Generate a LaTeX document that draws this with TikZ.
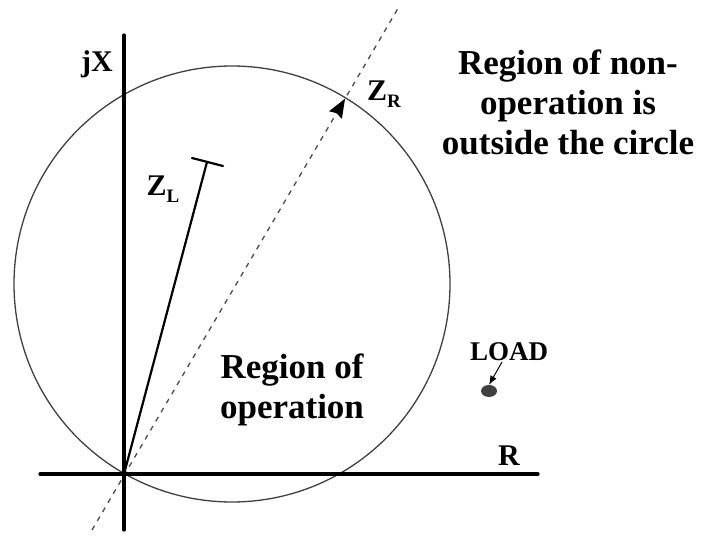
\documentclass[tikz,border=0pt]{standalone}
\usepackage{fontspec}
\setmainfont{Liberation Serif}
\usetikzlibrary{arrows.meta,calc,shapes.geometric}
\newcommand{\lowsub}[1]{\raisebox{-7pt}{\fontsize{19}{20}\selectfont #1}}
\begin{document}
\begin{tikzpicture}[x=1pt,y=-1pt,
  axis/.style={line width=3.2pt,line cap=round},
  circ/.style={line width=1.3pt,draw=black!75},
  dashline/.style={line width=1.3pt,draw=black!70,dash pattern=on 5pt off 5.5pt},
  lbl/.style={font=\bfseries\fontsize{30}{32}\selectfont,inner sep=0pt},
  big/.style={font=\bfseries\fontsize{35}{40}\selectfont,align=center,inner sep=0pt},
  lblsm/.style={font=\bfseries\fontsize{27}{28}\selectfont,inner sep=0pt}]
\useasboundingbox (0,0) rectangle (707,537);
% key points
\coordinate (O) at (124,474);
\coordinate (yT) at (124,35);
\coordinate (yB) at (124,530);
\coordinate (xL) at (40,474);
\coordinate (xR) at (538,474);
\coordinate (C) at (232,284);
\coordinate (dA) at (92,530);
\coordinate (dB) at (400,5);
\coordinate (ZR) at ($(dA)!0.8215!(dB)$);
\coordinate (ZRb) at ($(ZR)!19pt!(dA)$);
\coordinate (ZL) at (207,162);
\coordinate (bA) at (192,158);
\coordinate (bB) at (223,166);
\coordinate (la) at (502,362);
% circle
\draw[circ] (C) circle[radius=218];
% dashed impedance line
\draw[dashline] (dA) -- (dB);
\fill (ZR) -- ($(ZRb)!7.5pt!90:(ZR)$) -- ($(ZRb)!0.12!(ZR)$) -- ($(ZRb)!7.5pt!-90:(ZR)$) -- cycle;
% axes
\draw[axis] (yB) -- (yT);
\draw[axis] (xL) -- (xR);
% Z_L
\draw[line width=2.2pt] (O) -- (ZL);
\draw[line width=2.2pt,line cap=round] (bA) -- (bB);
% labels
\node[lbl,anchor=base] (jx) at (97,72) {jX};
\node[lbl,anchor=base] (zr) at (384,101) {Z\lowsub{R}};
\node[lbl,anchor=base] (zl) at (163,196) {Z\lowsub{L}};
\node[lbl,anchor=base] (r) at (509,465) {R};
\node[lblsm,anchor=base] (load) at (509,360) {LOAD};
\node[big] (nonop) at (568,102) {Region of non-\\operation is\\outside the circle};
\node[big] (op) at (292,390) {Region of\\operation};
% load point
\node[ellipse,fill=black!75,minimum width=16pt,minimum height=12pt,inner sep=0pt] (dot) at (489,391) {};
\draw[-{Latex[length=9pt,width=7pt]},line width=1pt] (la) -- (dot.north);
\end{tikzpicture}
\end{document}
